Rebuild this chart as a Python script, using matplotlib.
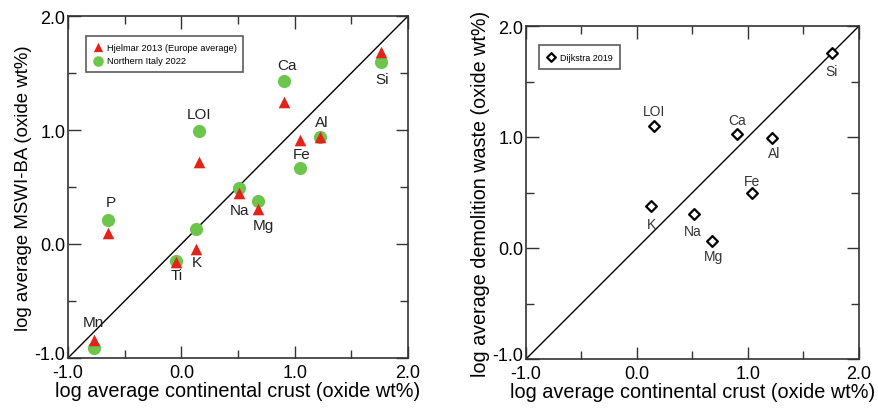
import matplotlib
matplotlib.use("Agg")
import matplotlib.pyplot as plt
import matplotlib.transforms as mtransforms
from matplotlib.ticker import MultipleLocator, FormatStrFormatter

plt.rcParams['font.family'] = ['Liberation Sans', 'DejaVu Sans']

# ---- data ----
elements_l = ["Si", "Ca", "LOI", "Al", "Fe", "Na", "Mg", "P", "K", "Ti", "Mn"]
crust_l = [1.76, 0.91, 0.16, 1.22, 1.05, 0.51, 0.68, -0.65, 0.13, -0.05, -0.77]
hjelmar = [1.68, 1.25, 0.72, 0.94, 0.91, 0.45, 0.31, 0.10, -0.04, -0.16, -0.84]
italy = [1.60, 1.43, 0.99, 0.94, 0.67, 0.49, 0.375, 0.21, 0.135, -0.15, -0.915]
label_pos_l = {"Si": (1.775, 1.45), "Ca": (0.935, 1.57), "LOI": (0.16, 1.14),
               "Al": (1.24, 1.07), "Fe": (1.06, 0.79), "Na": (0.515, 0.30),
               "Mg": (0.72, 0.17), "P": (-0.62, 0.37), "K": (0.14, -0.16),
               "Ti": (-0.04, -0.27), "Mn": (-0.78, -0.68)}

elements_r = ["Si", "LOI", "Ca", "Al", "Fe", "K", "Na", "Mg"]
crust_r = [1.76, 0.15, 0.90, 1.22, 1.04, 0.13, 0.51, 0.68]
dijkstra = [1.76, 1.10, 1.025, 0.995, 0.50, 0.38, 0.305, 0.06]
label_pos_r = {"Si": (1.754, 1.595), "LOI": (0.153, 1.235), "Ca": (0.904, 1.154),
               "Al": (1.234, 0.86), "Fe": (1.04, 0.605), "K": (0.132, 0.215),
               "Na": (0.498, 0.155), "Mg": (0.687, -0.07)}

ticks = [-1.0, 0.0, 1.0, 2.0]

RED = "#e2231a"
GREEN = "#6cc64c"

fig = plt.figure(figsize=(8.79, 4.10), dpi=100)
W, H = 879, 410
ax1 = fig.add_axes([68 / W, 1 - 359 / H, 340 / W, 342 / H])
ax2 = fig.add_axes([526 / W, 1 - 360 / H, 333 / W, 333 / H])


def style(ax, ylabel, xfs, yfs, tfs):
    ax.set_xlim(-1, 2)
    ax.set_ylim(-1, 2)
    ax.plot([-1, 2], [-1, 2], color="black", lw=1.0, zorder=1)
    ax.xaxis.set_minor_locator(MultipleLocator(0.5))
    ax.yaxis.set_minor_locator(MultipleLocator(0.5))
    ax.set_xticks(ticks)
    ax.set_yticks(ticks)
    ax.xaxis.set_major_formatter(FormatStrFormatter("%.1f"))
    ax.yaxis.set_major_formatter(FormatStrFormatter("%.1f"))
    ax.tick_params(which="both", direction="in", top=True, right=True,
                   labelsize=tfs, color="#333333", width=1.0)
    ax.tick_params(which="major", length=9)
    ax.tick_params(which="minor", length=6)
    ax.tick_params(axis="x", which="major", pad=4)
    ax.tick_params(axis="y", which="major", pad=2)
    for s in ax.spines.values():
        s.set_linewidth(1.2)
        s.set_color("#333333")
    ax.set_xlabel("log average continental crust (oxide wt%)", fontsize=xfs, labelpad=0)
    ax.set_ylabel(ylabel, fontsize=yfs, labelpad=2)
    # lift the bottom y tick label slightly, as in the reference
    lbl = ax.yaxis.get_major_ticks()[0].label1
    lbl.set_transform(lbl.get_transform() +
                      mtransforms.ScaledTranslation(0, 5 / 100, fig.dpi_scale_trans))


style(ax1, "log average MSWI-BA (oxide wt%)", 14.3, 13.4, 13)
style(ax2, "log average demolition waste (oxide wt%)", 14.3, 14.2, 13)

ax1.scatter(crust_l, hjelmar, marker="^", s=70, color=RED, zorder=3,
            label="Hjelmar 2013 (Europe average)", linewidths=0)
ax1.scatter(crust_l, italy, marker="o", s=90, color=GREEN, zorder=2,
            label="Northern Italy 2022", linewidths=0)
for el in elements_l:
    x, y = label_pos_l[el]
    ax1.text(x, y, el, fontsize=11, ha="center", va="center", color="#222222")

leg1 = ax1.legend(loc="upper left", bbox_to_anchor=(0.04, 0.955), fontsize=6.7,
                  frameon=True, fancybox=False, edgecolor="#333333",
                  borderpad=0.7, handletextpad=0.3, labelspacing=0.5,
                  handlelength=1.2, markerscale=0.8)
leg1.get_frame().set_linewidth(1.2)

ax2.scatter(crust_r, dijkstra, marker="D", s=30, facecolor="white",
            edgecolor="black", linewidths=1.6, zorder=3, label="Dijkstra 2019")
for el in elements_r:
    x, y = label_pos_r[el]
    ax2.text(x, y, el, fontsize=10, ha="center", va="center", color="#333333")

leg2 = ax2.legend(loc="upper left", bbox_to_anchor=(0.025, 0.955), fontsize=6.5,
                  frameon=True, fancybox=False, edgecolor="#333333",
                  borderpad=0.8, handletextpad=0.3, handlelength=1.2,
                  markerscale=0.8)
leg2.get_frame().set_linewidth(1.2)

fig.savefig("out.png", dpi=100)
